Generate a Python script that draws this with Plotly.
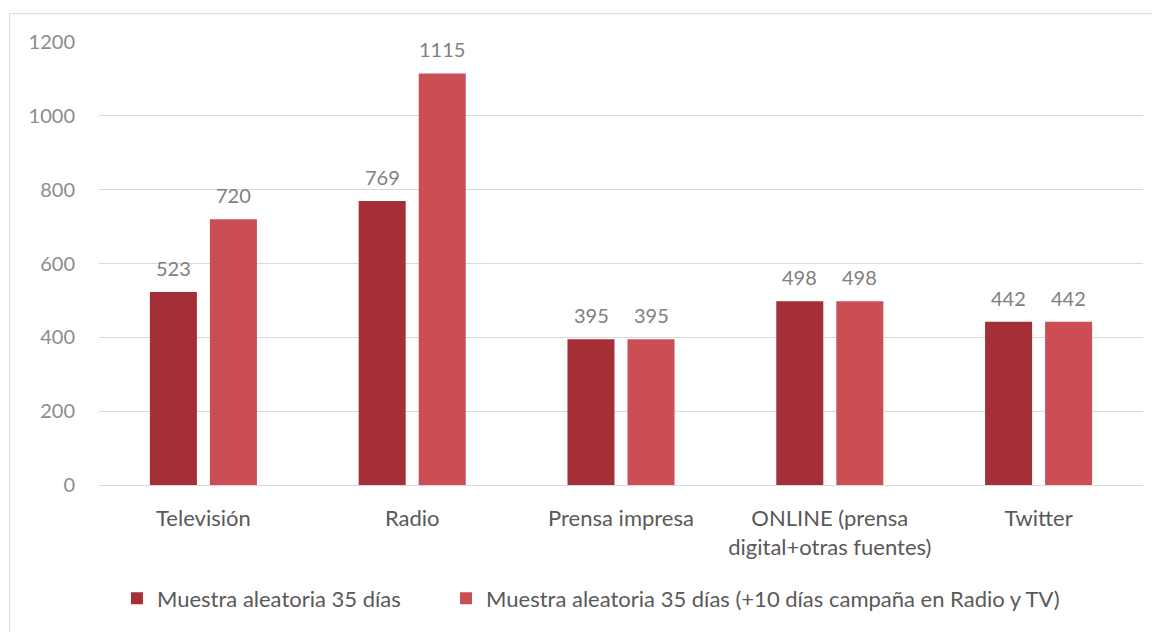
import plotly.graph_objects as go

categories = ["Televisión", "Radio", "Prensa impresa", "ONLINE (prensa<br>digital+otras fuentes)", "Twitter"]
series1_name = "Muestra aleatoria 35 días"
series2_name = "Muestra aleatoria 35 días (+10 días campaña en Radio y TV)"
series1 = [523, 769, 395, 498, 442]
series2 = [720, 1115, 395, 498, 442]
y_ticks = [0, 200, 400, 600, 800, 1000, 1200]

FONT = "Lato, 'Open Sans', sans-serif"
dark = "#A52F36"
light = "#CB4E54"
label_color = "#808080"

fig = go.Figure()
fig.add_trace(go.Bar(x=categories, y=series1, name=series1_name, legend="legend",
                     marker=dict(color=dark, line=dict(width=0))))
fig.add_trace(go.Bar(x=categories, y=series2, name=series2_name, legend="legend2",
                     marker=dict(color=light, line=dict(width=0))))

annotations = []
for cat, v in zip(categories, series1):
    annotations.append(dict(x=cat, y=v, xref="x", yref="y", text=str(v), showarrow=False,
                            xshift=-30, yshift=10, yanchor="bottom",
                            font=dict(size=20, color=label_color, family=FONT)))
for cat, v in zip(categories, series2):
    annotations.append(dict(x=cat, y=v, xref="x", yref="y", text=str(v), showarrow=False,
                            xshift=30, yshift=10, yanchor="bottom",
                            font=dict(size=20, color=label_color, family=FONT)))

legend_common = dict(orientation="h", xanchor="left", y=-0.256, yanchor="middle",
                     font=dict(size=22, color="#595959"), itemwidth=30)

W, H = 1152, 624
fig.update_layout(
    width=W, height=H,
    margin=dict(l=91, r=17, t=34, b=145),
    paper_bgcolor="white", plot_bgcolor="white",
    barmode="group", bargap=0.425, bargroupgap=0.217,
    font=dict(family=FONT, color="#595959", size=20),
    legend=dict(x=0.0172, **legend_common),
    legend2=dict(x=0.3324, **legend_common),
    showlegend=True,
    annotations=annotations,
    yaxis=dict(range=[0, 1200], tickvals=y_ticks, showgrid=True, gridcolor="#d9d9d9", gridwidth=1,
               zeroline=True, zerolinecolor="#d9d9d9", zerolinewidth=1,
               tickfont=dict(size=20, color="#8c8c8c"), ticks="", ticklen=0, showline=False,
               ticklabelstandoff=23, automargin=False),
    xaxis=dict(tickfont=dict(size=22, color="#595959"), showline=False, ticks="",
               ticklabelstandoff=18, automargin=False),
    shapes=[dict(type="rect", xref="paper", yref="paper", x0=(1.5 - 91) / 1044, x1=(1170 - 91) / 1044,
                 y0=-0.5, y1=1 + (34 - 5.5) / 445, line=dict(color="#d9d9d9", width=1), layer="below")],
)

fig.write_html("out.html")
